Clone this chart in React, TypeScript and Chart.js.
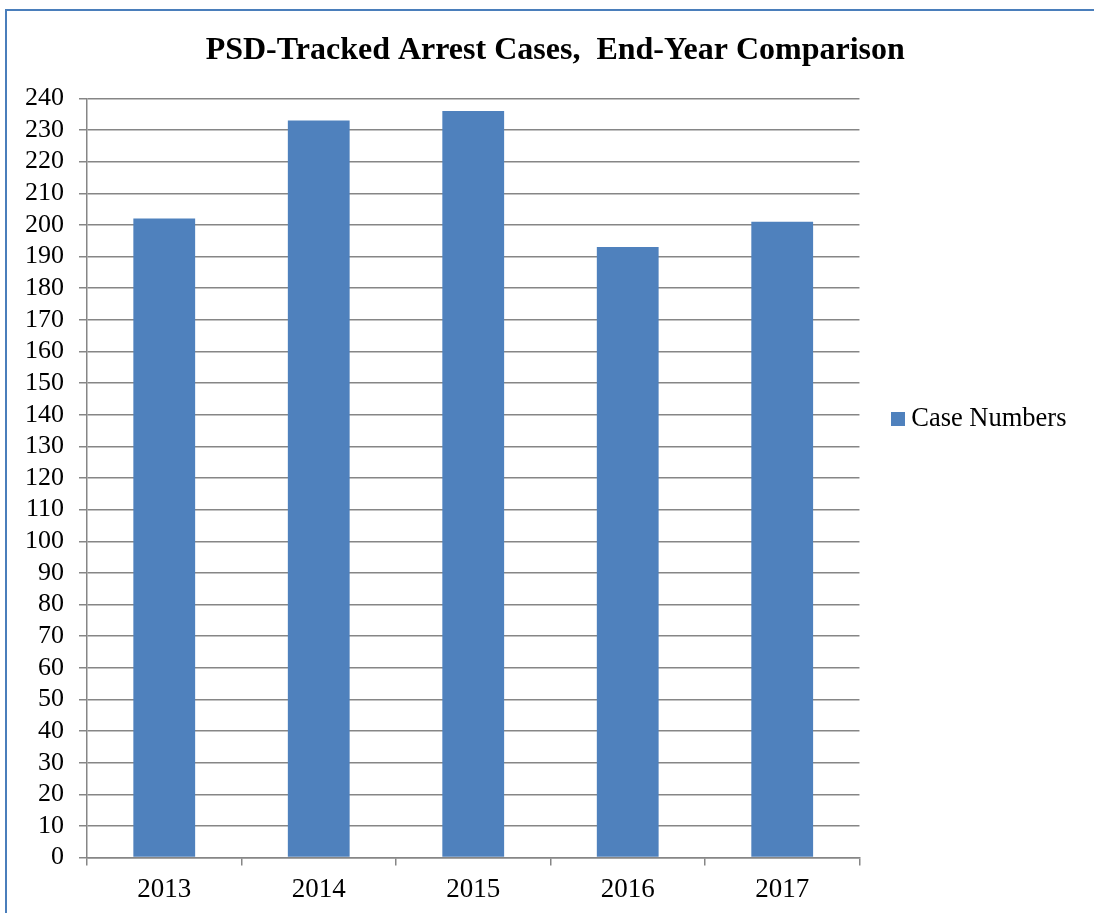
import { useEffect, useRef } from 'react';
import { Chart, registerables } from 'chart.js';

Chart.register(...registerables);

const categories = ['2013', '2014', '2015', '2016', '2017'];
const caseNumbers = [202, 233, 236, 193, 201];
const seriesLabel = 'Case Numbers';
const chartTitle = 'PSD-Tracked Arrest Cases,  End-Year Comparison';
const yMin = 0;
const yMax = 240;
const yStep = 10;

const BAR_COLOR = '#4f81bd';
const GRID_COLOR = '#868686';
const FONT = "'Liberation Serif', 'Times New Roman', serif";

const frameAndShift = {
  id: 'frameAndShift',
  afterLayout(chart: any) {
    const lg = chart.legend;
    if (lg) {
      const dy = -38;
      const dx = 28;
      lg.top += dy;
      lg.bottom += dy;
      lg.left += dx;
      lg.right += dx;
    }
    const tb = chart.titleBlock;
    if (tb) {
      tb.left += 26;
      tb.right += 26;
    }
  },
  beforeDraw(chart: any) {
    const ctx = chart.ctx;
    ctx.save();
    ctx.strokeStyle = '#4a7ebb';
    ctx.lineWidth = 2;
    ctx.beginPath();
    ctx.moveTo(6, chart.height);
    ctx.lineTo(6, 10);
    ctx.lineTo(chart.width, 10);
    ctx.stroke();
    ctx.restore();
  },
};

export default function App() {
  const ref = useRef<HTMLCanvasElement | null>(null);
  useEffect(() => {
    if (!ref.current) return;
    Chart.defaults.font.family = FONT;
    const swatch = document.createElement('canvas');
    swatch.width = 14;
    swatch.height = 14;
    const sctx = swatch.getContext('2d');
    if (sctx) {
      sctx.fillStyle = BAR_COLOR;
      sctx.fillRect(0, 0, 14, 14);
    }
    const chart = new Chart(ref.current, {
      type: 'bar',
      data: {
        labels: categories,
        datasets: [
          {
            label: seriesLabel,
            data: caseNumbers,
            backgroundColor: BAR_COLOR,
            borderWidth: 0,
            categoryPercentage: 0.8,
            barPercentage: 0.5,
            pointStyle: swatch,
          },
        ],
      },
      options: {
        animation: false,
        responsive: false,
        devicePixelRatio: 1,
        layout: { padding: { left: 10, right: 45.5, top: 0, bottom: -1 } },
        plugins: {
          title: {
            display: true,
            text: chartTitle,
            color: '#000',
            font: { family: FONT, size: 32, weight: 'bold' },
            padding: { top: 32, bottom: 28 },
          },
          legend: {
            position: 'right',
            labels: {
              usePointStyle: true,
              pointStyle: swatch,
              pointStyleWidth: 0.5,
              boxWidth: 14,
              boxHeight: 14,
              color: '#000',
              padding: 10,
              font: { family: FONT, size: 26.5 },
            },
          },
          tooltip: { enabled: false },
        },
        scales: {
          x: {
            grid: {
              display: true,
              drawOnChartArea: false,
              drawTicks: true,
              tickLength: 8,
              color: GRID_COLOR,
              lineWidth: 1.5,
              offset: true,
            },
            border: { color: GRID_COLOR, width: 1.5 },
            ticks: { color: '#000', padding: 8, font: { family: FONT, size: 27 } },
          },
          y: {
            min: yMin,
            max: yMax,
            grid: { color: GRID_COLOR, lineWidth: 1.5, tickLength: 8 },
            border: { color: GRID_COLOR, width: 1.5 },
            ticks: {
              stepSize: yStep,
              autoSkip: false,
              color: '#000',
              padding: 15,
              font: { family: FONT, size: 26 },
            },
          },
        },
      },
      plugins: [frameAndShift],
    });
    return () => chart.destroy();
  }, []);
  return (
    <canvas
      ref={ref}
      width={1094}
      height={913}
      style={{ position: 'absolute', left: 0, top: 0, width: 1094, height: 913, display: 'block' }}
    />
  );
}
